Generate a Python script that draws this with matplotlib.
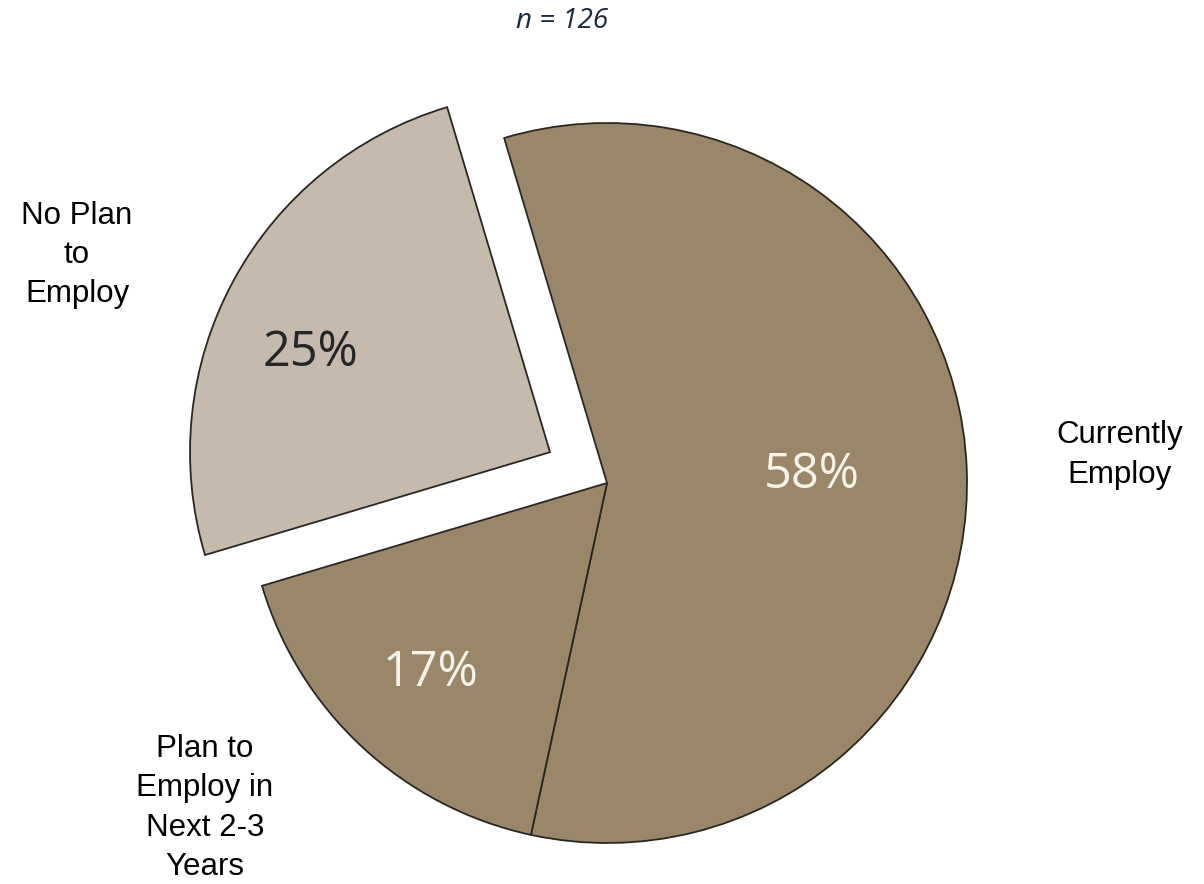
import numpy as np
import matplotlib
matplotlib.use("Agg")
import matplotlib.pyplot as plt

# data
categories = ["Currently\nEmploy", "Plan to\nEmploy in\nNext 2-3\nYears", "No Plan\nto\nEmploy"]
shares = [58, 17, 25]
pct_labels = ["58%", "17%", "25%"]
title = "n = 126"

colors = ["#9a8769", "#9a8769", "#c6baac"]
pct_colors = ["#f7f3ea", "#f7f3ea", "#262626"]
explode = [0, 0, 0.18]
pct_dist = [0.57, 0.72, 0.72]
pct_turn = [0, 0, 6]     # small angular nudge of the percent labels (deg)

W, H = 1204, 884
R = 360.0                # pie radius in pixels
cx, cy = 607, 483        # pie centre in pixels (from top)

fig = plt.figure(figsize=(W / 100, H / 100), dpi=100)
ax = fig.add_axes([0, 0, 1, 1])
ax.axis("off")

wedges, _ = ax.pie(shares, colors=colors, explode=explode, startangle=106.6,
                   counterclock=False, radius=1.0,
                   wedgeprops=dict(edgecolor="#2a2622", linewidth=1.3))
ax.set_xlim(-cx / R, (W - cx) / R)
ax.set_ylim(-(H - cy) / R, cy / R)

for w, lab, c, d, t in zip(wedges, pct_labels, pct_colors, pct_dist, pct_turn):
    ang = np.deg2rad((w.theta1 + w.theta2) / 2 + t)
    ox, oy = w.center
    ax.text(ox + d * np.cos(ang), oy + d * np.sin(ang), lab, color=c,
            fontsize=35, family="Open Sans", ha="center", va="center")


def px(x, y):
    return (x - cx) / R, (cy - y) / R


label_pos = [(1120, 455), (205, 808), (77, 255)]
for lab, (x, y) in zip(categories, label_pos):
    ax.text(*px(x, y), lab, fontsize=22.5, family="Liberation Sans",
            ha="center", va="center", linespacing=1.4, color="#000000")

ax.text(*px(562, 21), title, fontsize=20, family="Open Sans", style="italic",
        ha="center", va="center", color="#1c2a40")

fig.savefig("out.png", dpi=100)
